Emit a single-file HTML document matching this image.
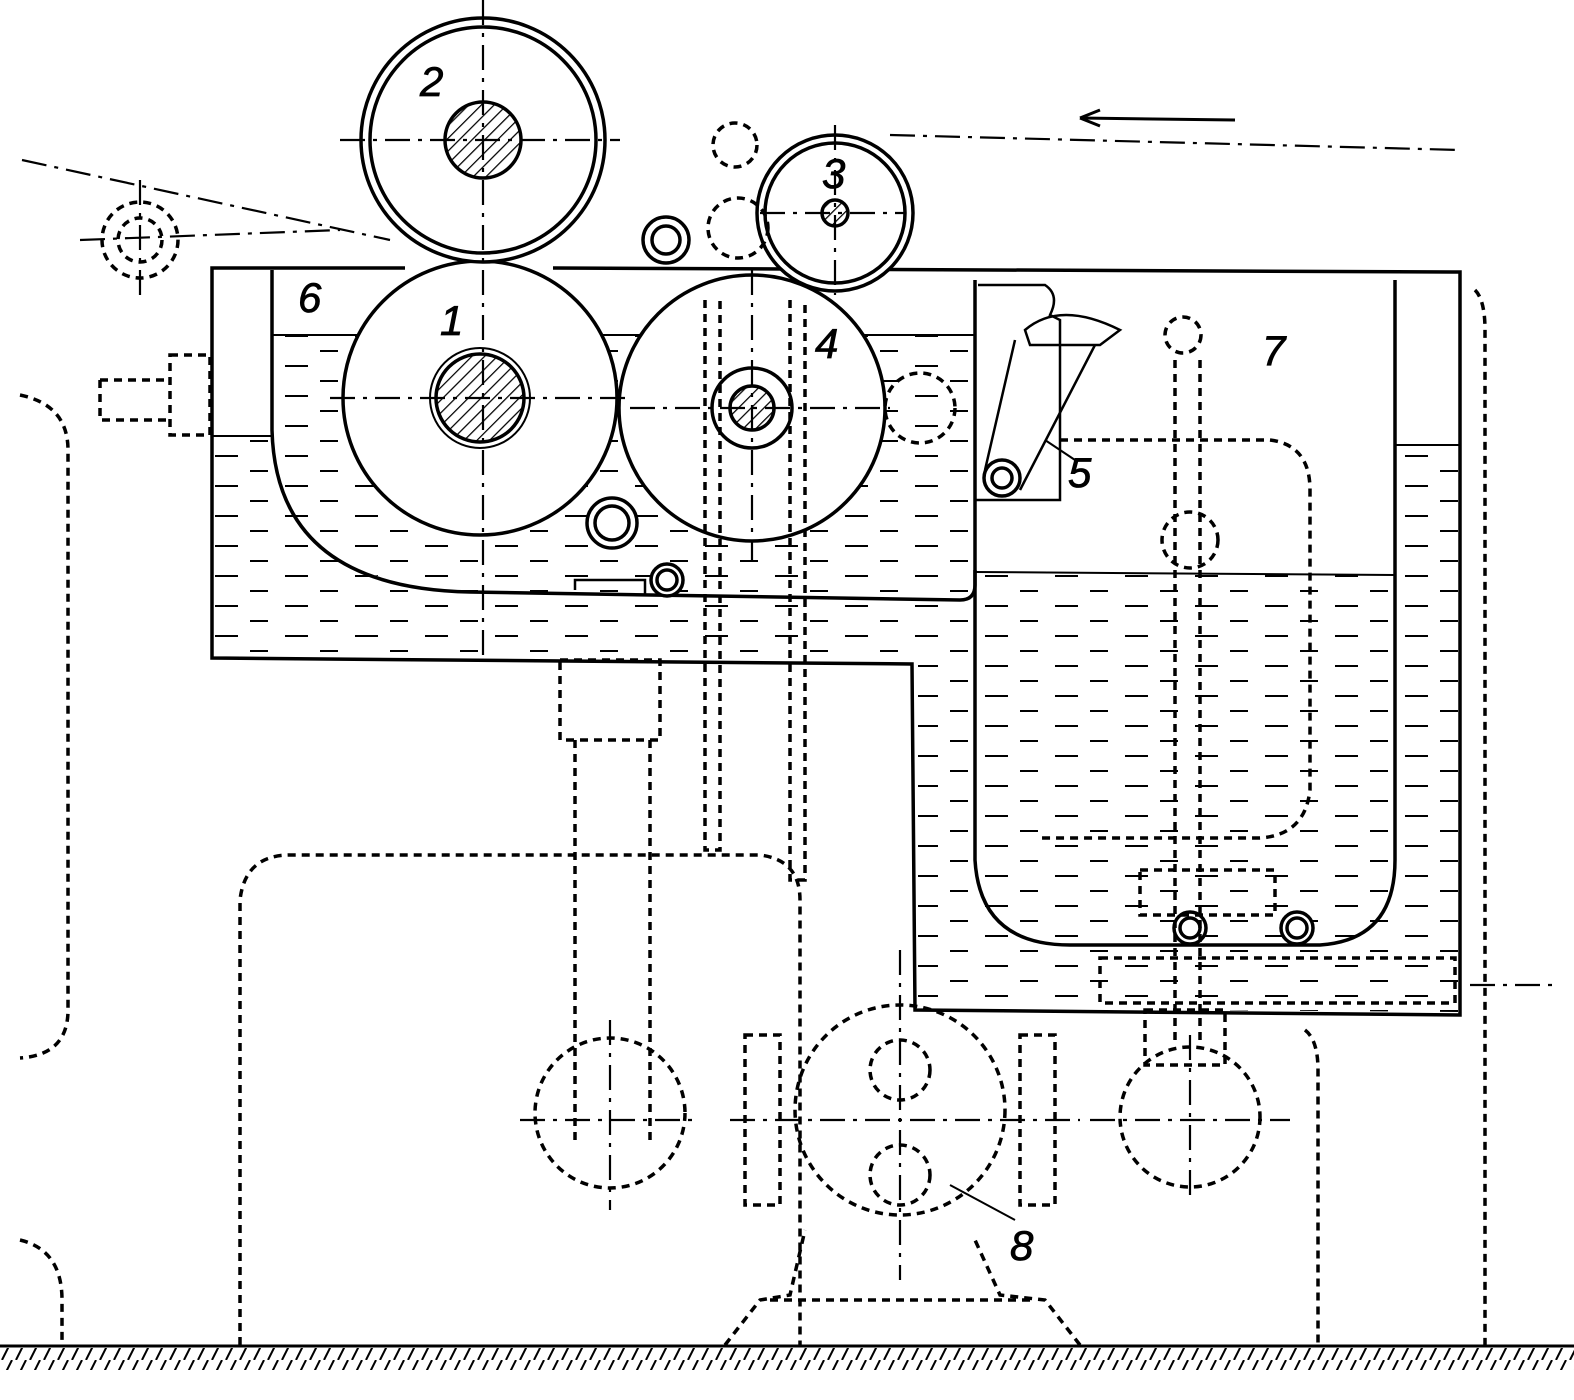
<!DOCTYPE html>
<html><head><meta charset="utf-8"><style>html,body{margin:0;padding:0;background:#fff}svg{display:block}</style></head>
<body>
<svg width="1574" height="1400" viewBox="0 0 1574 1400" xmlns="http://www.w3.org/2000/svg">
<defs>
<pattern id="water" width="70" height="30" patternUnits="userSpaceOnUse">
<line x1="5" y1="6" x2="28" y2="6" stroke="#000" stroke-width="2"/>
<line x1="40" y1="21" x2="58" y2="21" stroke="#000" stroke-width="2"/>
</pattern>
<pattern id="hatch" width="9" height="9" patternUnits="userSpaceOnUse" patternTransform="rotate(45)">
<line x1="0" y1="0" x2="0" y2="9" stroke="#000" stroke-width="2.5"/>
</pattern>
<pattern id="ground" width="14" height="20" patternUnits="userSpaceOnUse">
<line x1="12" y1="0" x2="2" y2="20" stroke="#000" stroke-width="2"/>
</pattern>
</defs>
<g fill="none" stroke="#000" stroke-width="3.5">
<path d="M214 436 L272 436 L272 335 L975 335 L975 598 L470 592 Q272 580 272 436 Z" fill="url(#water)" stroke="none"/>
<path d="M214 436 L272 436 Q280 590 470 592 L975 600 L975 658 L214 658 Z" fill="url(#water)" stroke="none"/>
<path d="M975 572 L1395 575 L1395 445 L1458 445 L1458 1012 L918 1008 L918 662 L975 662 Z" fill="url(#water)" stroke="none"/>
<path d="M272 335 L975 335" stroke-width="2"/>
<path d="M212 436 L272 436" stroke-width="2"/>
<path d="M975 572 L1395 575" stroke-width="2"/>
<path d="M1395 445 L1460 445" stroke-width="2"/>
<circle cx="480" cy="398" r="137" fill="#fff"/>
<circle cx="752" cy="408" r="133" fill="#fff"/>
<path d="M405 268 L212 268 L212 658 L912 664 L915 1010 L1460 1015 L1460 272 L1452 272"/>
<path d="M553 268 L1452 272"/>
<path d="M272 270 L272 430 Q276 588 470 592 L960 600 Q975 600 975 585 L975 280"/>
<path d="M975 570 L975 860 Q980 945 1070 945 L1320 945 Q1395 940 1395 860 L1395 280"/>
<circle cx="483" cy="140" r="122" fill="#fff"/>
<circle cx="483" cy="140" r="113"/>
<circle cx="483" cy="140" r="38" fill="url(#hatch)"/>
<circle cx="480" cy="398" r="44" fill="url(#hatch)"/>
<circle cx="480" cy="398" r="50" stroke-width="2"/>
<circle cx="752" cy="408" r="40"/>
<circle cx="752" cy="408" r="22" fill="url(#hatch)"/>
<circle cx="835" cy="213" r="78" fill="#fff"/>
<circle cx="835" cy="213" r="70"/>
<circle cx="835" cy="213" r="13" fill="url(#hatch)"/>
<circle cx="666" cy="240" r="23"/><circle cx="666" cy="240" r="14"/>
<circle cx="612" cy="523" r="25" fill="#fff"/><circle cx="612" cy="523" r="17"/>
<circle cx="667" cy="580" r="16" fill="#fff"/><circle cx="667" cy="580" r="10"/>
<circle cx="1190" cy="928" r="16" fill="#fff"/><circle cx="1190" cy="928" r="10"/>
<circle cx="1297" cy="928" r="16" fill="#fff"/><circle cx="1297" cy="928" r="10"/>
<circle cx="1002" cy="478" r="18"/><circle cx="1002" cy="478" r="10"/>
<path d="M978 285 L1045 285 Q1060 295 1050 315 L1060 320 L1060 500 L975 500" stroke-width="2.5"/>
<path d="M1025 330 Q1060 300 1120 330 L1100 345 L1030 345 Z" stroke-width="2.5"/>
<path d="M1015 340 L985 470 M1095 345 L1020 490" stroke-width="2.5"/>
<path d="M575 590 L575 580 L645 580 L645 595" stroke-width="2.5"/>
<path d="M1045 440 L1075 460" stroke-width="2"/>
<path d="M950 1185 L1015 1220" stroke-width="2"/>
</g>
<g fill="none" stroke="#000" stroke-width="3.5" stroke-dasharray="8 6">
<path d="M20 395 Q68 405 68 450 L68 1010 Q68 1055 20 1058"/>
<path d="M20 1240 Q62 1250 62 1300 L62 1345"/>
<path d="M240 1345 L240 900 Q245 855 290 855 L760 855 Q800 860 800 900 L800 1345"/>
<path d="M1060 440 L1270 440 Q1310 445 1310 490 L1310 790 Q1305 835 1260 838 L1040 838"/>
<path d="M1305 1030 Q1318 1040 1318 1070 L1318 1345"/>
<path d="M1475 290 Q1485 300 1485 330 L1485 1345"/>
<circle cx="610" cy="1113" r="75"/>
<circle cx="1190" cy="1117" r="70"/>
<circle cx="900" cy="1110" r="105"/>
<circle cx="900" cy="1070" r="30"/>
<circle cx="900" cy="1175" r="30"/>
<circle cx="140" cy="240" r="38"/>
<circle cx="140" cy="240" r="22"/>
<circle cx="735" cy="145" r="22"/>
<circle cx="738" cy="228" r="30"/>
<circle cx="920" cy="408" r="35"/>
<circle cx="1190" cy="540" r="28"/>
<circle cx="1183" cy="335" r="18"/>
<rect x="560" y="660" width="100" height="80"/>
<rect x="170" y="355" width="40" height="80"/>
<rect x="745" y="1035" width="35" height="170"/>
<rect x="1020" y="1035" width="35" height="170"/>
<rect x="1100" y="958" width="355" height="45"/>
<rect x="1145" y="1010" width="80" height="55"/>
<rect x="1140" y="870" width="135" height="45"/>
<path d="M575 740 L575 1140 M650 740 L650 1140"/>
<path d="M705 300 L705 850 L720 850 L720 300 M790 300 L790 880 L805 880 L805 300"/>
<path d="M1175 360 L1175 1040 M1200 360 L1200 1040"/>
<path d="M725 1345 L760 1300 L790 1295 L805 1230 M1080 1345 L1045 1300 L1000 1295 L975 1240 M770 1300 L1030 1300"/>
<path d="M100 380 L100 420 L170 420 M100 380 L170 380"/>
</g>
<g fill="none" stroke="#000" stroke-width="2.2" stroke-dasharray="25 8 4 8">
<path d="M483 0 L483 660 M340 140 L620 140 M330 398 L630 398"/>
<path d="M752 270 L752 560 M630 408 L890 408 M835 125 L835 295 M760 213 L905 213"/>
<path d="M610 1020 L610 1210 M520 1120 L700 1120 M1190 1035 L1190 1200 M1090 1120 L1290 1120"/>
<path d="M900 950 L900 1280 M730 1120 L1080 1120"/>
<path d="M22 160 L390 240 M890 135 L1460 150"/>
<path d="M140 180 L140 300 M80 240 L340 230"/>
<path d="M1470 985 L1560 985"/>
</g>
<path d="M1080 118 L1235 120" stroke="#000" stroke-width="3"/>
<path d="M1080 118 L1100 110 M1080 118 L1100 126" stroke="#000" stroke-width="3" fill="none"/>
<rect x="0" y="1348" width="1574" height="22" fill="url(#ground)"/>
<line x1="0" y1="1346" x2="1574" y2="1346" stroke="#000" stroke-width="3"/>
<g font-family="Liberation Sans, sans-serif" font-style="italic" font-size="42" fill="#000" stroke="#000" stroke-width="0.8">
<text x="420" y="96">2</text>
<text x="822" y="188">3</text>
<text x="440" y="335">1</text>
<text x="815" y="358">4</text>
<text x="298" y="312">6</text>
<text x="1262" y="365">7</text>
<text x="1068" y="487">5</text>
<text x="1010" y="1260">8</text>
</g>
</svg>
</body></html>
